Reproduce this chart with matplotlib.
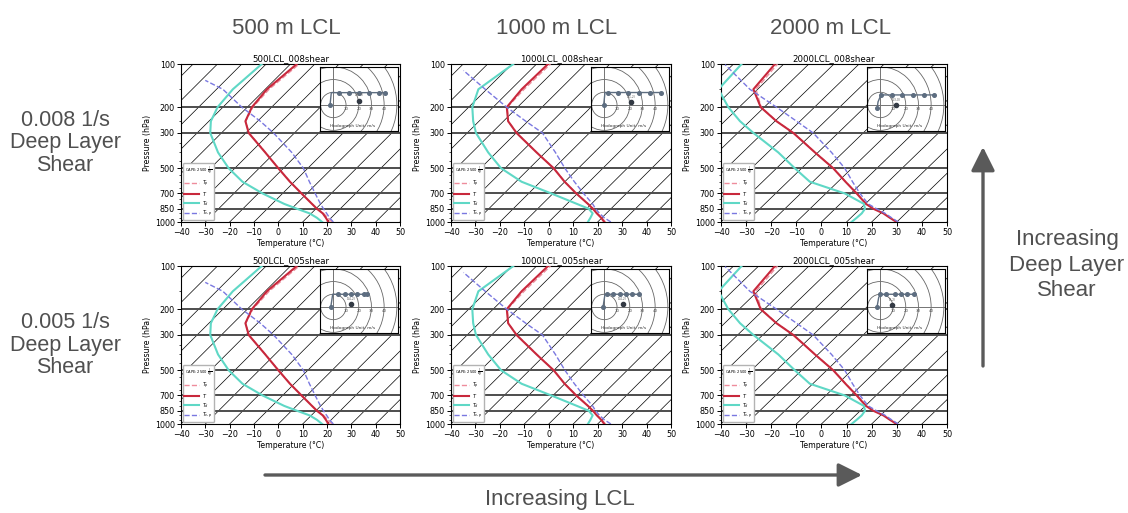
"""
Skew-T grid for the LCL / deep layer shear experiments.

Three LCL heights (columns) x two shear values (rows). Each panel is a
skew-T log-p style diagram with the environmental profile, the parcel
curves and a hodograph inset. Row/column labels and trend arrows around it.
"""
import numpy as np
import matplotlib
matplotlib.use('Agg')
import matplotlib.pyplot as plt
from matplotlib.patches import Circle, FancyArrowPatch
from matplotlib.transforms import Affine2D
from matplotlib.ticker import FixedLocator, MultipleLocator, NullFormatter


###########  data  ###########

PRESSURE = [1000, 950, 900, 850, 800, 700, 600, 500, 400, 300, 250, 200, 150, 100]

# environment temperature (degC)
T_500  = [20.6, 17.8, 14.7, 10.4, 6.4, -2.2, -11.8, -22.1, -34.0, -48.8, -55.0, -58.1, -59.3, -57.4]
T_1000 = [22.7, 19.7, 16.1, 12.6, 8.6, -0.5, -10.1, -20.1, -33.6, -49.8, -58.1, -64.4, -65.7, -65.3]
T_2000 = [29.9, 25.5, 21.1, 15.2, 10.3, 2.3, -7.0, -17.4, -31.2, -47.8, -59.4, -71.4, -81.7, -83.5]

# dewpoint (degC)
TD_500  = [18.0, 14.1, 9.3, 2.2, -5.0, -18.2, -31.3, -42.5, -53.4, -64.6, -69.2, -72.2, -73.3, -71.8]
TD_1000 = [16.0, 15.3, 14.4, 10.9, 4.1, -10.7, -27.7, -41.6, -53.4, -66.4, -72.4, -78.5, -83.4, -79.5]
TD_2000 = [12.0, 12.3, 12.5, 11.9, 9.5, -2.4, -21.2, -32.7, -45.8, -63.7, -73.9, -84.3, -95.6, -96.8]

# parcel temperature (degC)
TP_500  = [22.0, 18.6, 15.0, 10.6, 6.5, -2.1, -11.7, -22.0, -33.9, -48.7, -54.9, -57.7, -58.4, -56.4]
TP_1000 = [23.2, 20.0, 16.4, 12.8, 8.7, -0.4, -10.0, -20.0, -33.5, -49.7, -58.0, -64.2, -64.7, -64.3]
TP_2000 = [30.3, 25.9, 21.5, 15.6, 10.6, 2.4, -6.9, -17.3, -31.1, -47.7, -59.3, -71.2, -80.7, -82.5]

# parcel virtual temperature (degC), ends at its own top level
P_TVP_500  = [1000, 950, 900, 850, 800, 700, 600, 500, 400, 300, 250, 200, 150, 130]
P_TVP_1000 = [1000, 950, 900, 850, 800, 700, 600, 500, 400, 300, 250, 200, 150, 111]
P_TVP_2000 = [1000, 950, 900, 850, 800, 700, 600, 500, 400, 300, 250, 200, 150, 101]
TVP_500  = [22.6, 19.3, 16.3, 13.1, 9.9, 3.4, -3.8, -11.8, -23.1, -38.6, -48.9, -62.2, -77.4, -88.3]
TVP_1000 = [25.4, 21.0, 17.2, 13.7, 10.5, 2.5, -6.1, -15.5, -25.9, -39.2, -50.9, -64.4, -80.6, -97.2]
TVP_2000 = [30.6, 26.2, 21.8, 16.5, 11.2, 3.6, -4.2, -12.8, -24.6, -39.9, -51.4, -65.1, -83.1, -103.1]

CAPE = 2500

# hodographs (m/s): wind profile and storm motion
U_500_008  = [-2.6, -1.6, 4.2, 12.0, 20.0, 28.3, 36.0, 40.9]
V_500_008  = [0.0, 9.7, 9.7, 9.7, 9.7, 9.7, 9.7, 9.7]
U_1000_008 = [-0.5, 0.5, 2.6, 10.5, 19.0, 27.3, 35.7, 44.5]
V_1000_008 = [0.0, 9.8, 9.8, 9.8, 9.8, 9.8, 9.8, 9.8]
U_2000_008 = [-2.5, -1.8, 0.5, 9.2, 17.0, 25.5, 34.4, 42.0]
V_2000_008 = [-2.5, 2.5, 7.9, 7.9, 7.9, 7.9, 7.9, 7.9]
U_500_005  = [-2.0, -0.5, 3.6, 8.9, 13.9, 18.9, 24.1, 26.8]
V_500_005  = [0.0, 10.0, 10.0, 10.0, 10.0, 10.0, 10.0, 10.0]
U_1000_005 = [-1.0, 0.5, 1.8, 7.1, 12.3, 17.1, 22.1, 27.6]
V_1000_005 = [0.0, 10.0, 10.0, 10.0, 10.0, 10.0, 10.0, 10.0]
U_2000_005 = [-2.6, -1.3, 0.0, 4.7, 11.3, 16.0, 21.3, 26.5]
V_2000_005 = [0.0, 7.4, 10.0, 10.0, 10.0, 10.0, 10.0, 10.0]

SM_500_008  = (20.5, 3.4)
SM_1000_008 = (21.0, 2.0)
SM_2000_008 = (12.6, 0.0)
SM_500_005  = (14.2, 2.1)
SM_1000_005 = (14.4, 2.0)
SM_2000_005 = (9.2, 1.6)

LCLS = [500, 1000, 2000]
SHEARS = ['008', '005']
COL_HEADERS = ['500 m LCL', '1000 m LCL', '2000 m LCL']
ROW_LABELS = ['0.008 1/s\nDeep Layer\nShear', '0.005 1/s\nDeep Layer\nShear']

PROFILES = {
    500:  (T_500, TD_500, TP_500, P_TVP_500, TVP_500),
    1000: (T_1000, TD_1000, TP_1000, P_TVP_1000, TVP_1000),
    2000: (T_2000, TD_2000, TP_2000, P_TVP_2000, TVP_2000),
}
HODOS = {
    (500, '008'): (U_500_008, V_500_008, SM_500_008),
    (1000, '008'): (U_1000_008, V_1000_008, SM_1000_008),
    (2000, '008'): (U_2000_008, V_2000_008, SM_2000_008),
    (500, '005'): (U_500_005, V_500_005, SM_500_005),
    (1000, '005'): (U_1000_005, V_1000_005, SM_1000_005),
    (2000, '005'): (U_2000_005, V_2000_005, SM_2000_005),
}

###########################################


###########  parameter setup  ###########

FIG_W, FIG_H, DPI = 1128, 513, 100

# panel geometry in pixels (left edges per column, top edges per row)
PANEL_LEFT = [181, 451, 721]
PANEL_WIDTH = [219, 220, 226]
PANEL_TOP = [64, 266]
PANEL_HEIGHT = 158

SKEW = 65 / 90      # axes-fraction shift of an isotherm per unit axes height

HODO_W, HODO_H = 78, 64      # inset size, pixels
HODO_PX_PER_MS = 1.27
HODO_X0, HODO_Y0 = -10.5, -20.5

C_T    = '#c8283c'
C_TP   = '#ee8c9c'
C_TD   = '#5fd8c6'
C_TVP  = '#7a78e0'
C_HODO = '#5d6d80'
C_TEXT = '#505050'
C_ARROW = '#5a5a5a'

YTICKS = [100, 200, 300, 500, 700, 850, 1000]
YMINOR = [150, 250, 350, 400, 450, 550, 600, 650, 750, 800, 900, 950]

plt.rcParams['font.family'] = 'DejaVu Sans'
ANNOT_FONT = ['Liberation Sans', 'DejaVu Sans']

###########################################


def p_to_z(p):
    """standard atmosphere height (m) for pressure (hPa)"""
    p = np.clip(np.asarray(p, dtype=float), 1e-3, None)
    z_trop = 44330.8 * (1 - (p / 1013.25) ** 0.190263)
    z_strat = 11000 + 6341.6 * np.log(226.32 / p)
    return np.where(p >= 226.32, z_trop, z_strat)


def z_to_p(z):
    z = np.asarray(z, dtype=float)
    p_trop = 1013.25 * np.clip(1 - z / 44330.8, 1e-6, None) ** (1 / 0.190263)
    p_strat = 226.32 * np.exp(-(z - 11000) / 6341.6)
    return np.where(z <= 11000, p_trop, p_strat)


def skewed(ax):
    return (ax.transScale + ax.transLimits
            + Affine2D().skew(np.arctan(SKEW), 0) + ax.transAxes)


def draw_hodograph(ax, width_px, u, v, sm):
    x0 = 1 - (HODO_W + 2) / width_px
    y0 = 1 - (HODO_H + 3) / PANEL_HEIGHT
    hax = ax.inset_axes([x0, y0, HODO_W / width_px, HODO_H / PANEL_HEIGHT])
    hax.set_facecolor('white')
    hax.set_xlim(HODO_X0, HODO_X0 + HODO_W / HODO_PX_PER_MS)
    hax.set_ylim(HODO_Y0, HODO_Y0 + HODO_H / HODO_PX_PER_MS)
    hax.set_xticks([])
    hax.set_yticks([])
    for s in hax.spines.values():
        s.set_linewidth(0.8)
    hax.axhline(0, color='0.45', lw=0.7)
    hax.axvline(0, color='0.45', lw=0.7)
    for r in range(10, 80, 10):
        hax.add_patch(Circle((0, 0), r, fill=False, ec='0.4', lw=0.6))
    for r in (10, 20, 30, 40):
        hax.text(r, -1.6, str(r), fontsize=2.8, ha='center', va='top', color='0.3')
    hax.text(15, -16.3, 'Hodograph Unit: m/s', fontsize=3.2,
             ha='center', va='center', color='0.2')
    hax.plot(u, v, color=C_HODO, lw=1.0, marker='o', ms=2.6,
             markevery=[0] + list(range(2, len(u))))
    hax.plot(*sm, 'o', color='#333a44', ms=3.0)
    hax.text(sm[0], sm[1] + 2.5, f'({sm[0]:.0f},{sm[1]:.0f})', fontsize=2.2,
             ha='center', va='bottom', color='0.35')


###########  draw plot  ###########

fig = plt.figure(figsize=(FIG_W / DPI, FIG_H / DPI), dpi=DPI)

for row, shear in enumerate(SHEARS):
    for col, lcl in enumerate(LCLS):
        left, width, top = PANEL_LEFT[col], PANEL_WIDTH[col], PANEL_TOP[row]
        ax = fig.add_axes([left / FIG_W, (FIG_H - top - PANEL_HEIGHT) / FIG_H,
                           width / FIG_W, PANEL_HEIGHT / FIG_H])
        ax.set_yscale('function', functions=(p_to_z, z_to_p))
        ax.set_xlim(-40, 50)
        ax.set_ylim(1000, 100)
        ax.autoscale(False)
        # make sure 1000 hPa sits at the bottom
        y_lo = ax.transData.transform((0, 1000))[1]
        y_hi = ax.transData.transform((0, 100))[1]
        if y_lo > y_hi:
            ax.invert_yaxis()
        tr = skewed(ax)

        # isotherms and mandatory level lines
        for t in range(-120, 51, 10):
            ax.plot([t, t], [1000, 100], transform=tr, color='k', lw=0.5, zorder=1)
        for p in YTICKS[1:-1]:
            ax.axhline(p, color='0.3', lw=1.4, zorder=1)

        t, td, tp, p_tvp, tvp = PROFILES[lcl]
        ax.plot(tp, PRESSURE, transform=tr, color=C_TP, lw=1.0, ls='--',
                label=r'$T_p$', zorder=3)
        ax.plot(t, PRESSURE, transform=tr, color=C_T, lw=1.5, label=r'$T$', zorder=3)
        ax.plot(td, PRESSURE, transform=tr, color=C_TD, lw=1.5, label=r'$T_d$', zorder=3)
        ax.plot(tvp, p_tvp, transform=tr, color=C_TVP, lw=1.0, ls='--',
                label=r'$T_{v,p}$', zorder=3)

        # aesthetics
        ax.yaxis.set_major_locator(FixedLocator(YTICKS))
        ax.set_yticklabels([str(p) for p in YTICKS])
        ax.yaxis.set_minor_locator(FixedLocator(YMINOR))
        ax.yaxis.set_minor_formatter(NullFormatter())
        ax.xaxis.set_major_locator(MultipleLocator(10))
        ax.tick_params(labelsize=5.8, length=3, width=0.7, pad=1.5)
        ax.tick_params(which='minor', length=1.8, width=0.5)
        ax.set_xlabel('Temperature (°C)', fontsize=5.6, labelpad=1)
        ax.set_ylabel('Pressure (hPa)', fontsize=5.6, labelpad=2)
        ax.set_title(f'{lcl}LCL_{shear}shear', fontsize=6.2, pad=2)
        for s in ax.spines.values():
            s.set_linewidth(0.8)

        leg = ax.legend(loc='lower left', fontsize=3.5, handlelength=3.0,
                        labelspacing=0.2, borderpad=0.25, handletextpad=0.7,
                        borderaxespad=0.4,
                        title=f'CAPE: {CAPE} ' + r'$\frac{J}{kg}$',
                        title_fontsize=2.6, framealpha=1, edgecolor='0.7')
        leg.set_zorder(6)

        u, v, sm = HODOS[(lcl, shear)]
        draw_hodograph(ax, width, u, v, sm)

# column headers and row labels
for col, txt in enumerate(COL_HEADERS):
    cx = (PANEL_LEFT[col] + PANEL_WIDTH[col] / 2 - 4) / FIG_W
    fig.text(cx, 1 - 28 / FIG_H, txt, fontsize=16, color=C_TEXT,
             ha='center', va='center', family=ANNOT_FONT)
for row, txt in enumerate(ROW_LABELS):
    fig.text(65 / FIG_W, 1 - (143 + 202 * row) / FIG_H, txt, fontsize=15.5,
             color=C_TEXT, ha='center', va='center', linespacing=1.1,
             family=ANNOT_FONT)

# trend arrows
arrow_kw = dict(transform=None, arrowstyle='-|>,head_length=0.6,head_width=0.3',
                mutation_scale=24, color=C_ARROW, lw=2.4, shrinkA=0, shrinkB=0)
fig.add_artist(FancyArrowPatch((265, FIG_H - 475), (862, FIG_H - 475), **arrow_kw))
fig.add_artist(FancyArrowPatch((983, FIG_H - 366), (983, FIG_H - 147), **arrow_kw))
fig.text(560 / FIG_W, 1 - 500 / FIG_H, 'Increasing LCL', fontsize=16,
         color=C_TEXT, ha='center', va='center', family=ANNOT_FONT)
fig.text(1067 / FIG_W, 1 - 265 / FIG_H, 'Increasing\nDeep Layer\nShear',
         fontsize=16, color=C_TEXT, ha='center', va='center',
         linespacing=1.3, family=ANNOT_FONT)

fig.savefig('out.png', dpi=DPI)
plt.close()

###########################################
